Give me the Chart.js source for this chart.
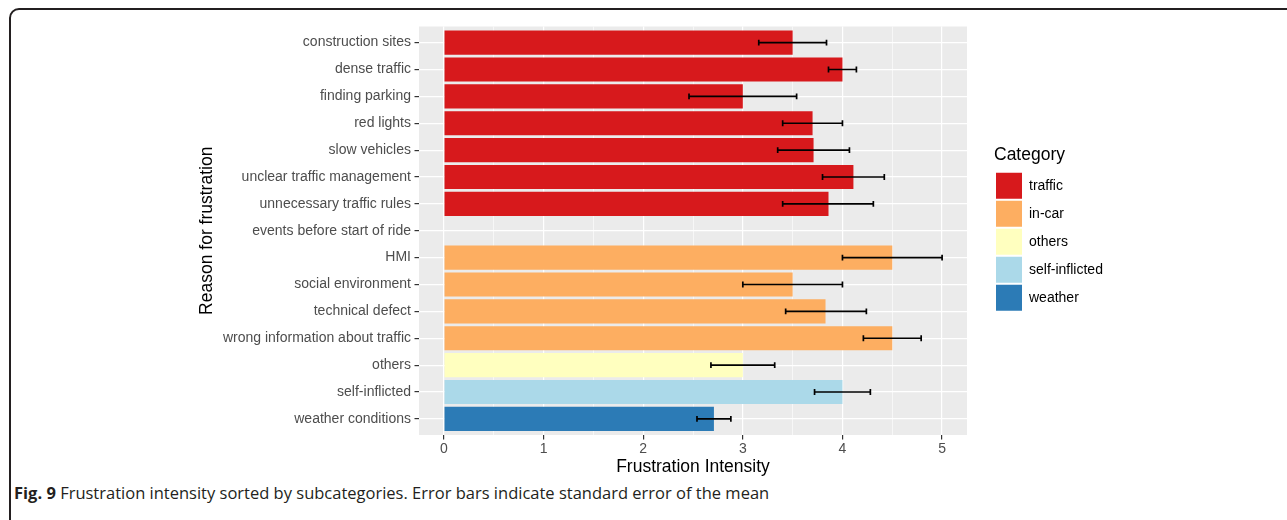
<!DOCTYPE html>
<html>
<head>
<meta charset="utf-8">
<script src="https://cdn.jsdelivr.net/npm/chart.js@4"></script>
<style>
    body { margin: 0; background: #fff; overflow: hidden; width: 1287px; height: 520px; position: relative; }
    .frame { position: absolute; left: 9px; top: 8px; width: 1400px; height: 600px; border: 2px solid #231f20; border-radius: 10px; box-sizing: border-box; }
    #chart { position: absolute; left: 0; top: 0; }
    .caption { position: absolute; left: 14px; top: 483px; font-family: "Open Sans", sans-serif; font-size: 16.5px; line-height: 20px; color: #231f20; white-space: nowrap; }
    .caption b { font-weight: 700; }
</style>
</head>
<body>
<div class="frame"></div>
<canvas id="chart" width="1287" height="478"></canvas>
<div class="caption"><b>Fig. 9</b> Frustration intensity sorted by subcategories. Error bars indicate standard error of the mean</div>

<script>
// data
const reasons = ["construction sites", "dense traffic", "finding parking", "red lights", "slow vehicles",
    "unclear traffic management", "unnecessary traffic rules", "events before start of ride", "HMI",
    "social environment", "technical defect", "wrong information about traffic", "others", "self-inflicted",
    "weather conditions"];
const reasonGroup = ["traffic", "traffic", "traffic", "traffic", "traffic", "traffic", "traffic", null,
    "in-car", "in-car", "in-car", "in-car", "others", "self-inflicted", "weather"];
const meanIntensity = [3.5, 4.0, 3.0, 3.7, 3.71, 4.11, 3.86, null, 4.5, 3.5, 3.83, 4.5, 3.0, 4.0, 2.71];
const errLow = [3.16, 3.86, 2.46, 3.4, 3.35, 3.8, 3.4, null, 4.0, 3.0, 3.43, 4.21, 2.68, 3.72, 2.54];
const errHigh = [3.84, 4.14, 3.54, 4.0, 4.07, 4.42, 4.31, null, 5.0, 4.0, 4.24, 4.79, 3.32, 4.28, 2.88];
const xTickValues = [0, 0.5, 1, 1.5, 2, 2.5, 3, 3.5, 4, 4.5, 5];
const groups = ["traffic", "in-car", "others", "self-inflicted", "weather"];
const groupColors = ["#d7191c", "#fdae61", "#ffffbf", "#abd9e9", "#2c7bb6"];

const PANEL_RIGHT = 967;

Chart.defaults.font.family = "Arial, 'Liberation Sans', Helvetica, sans-serif";

// grey ggplot panel
const panelBg = {
    id: "panelBg",
    beforeDraw(chart) {
        const a = chart.chartArea;
        chart.ctx.save();
        chart.ctx.fillStyle = "#ebebeb";
        chart.ctx.fillRect(a.left, a.top, a.right - a.left, a.bottom - a.top);
        chart.ctx.restore();
    }
};

// error bars from the scales
const errorBars = {
    id: "errorBars",
    afterDatasetsDraw(chart) {
        const xs = chart.scales.x, ys = chart.scales.y, ctx = chart.ctx;
        ctx.save();
        ctx.strokeStyle = "#000";
        ctx.lineWidth = 1.7;
        reasons.forEach((r, i) => {
            if (errLow[i] == null) return;
            const y = ys.getPixelForValue(i + 1);
            const cap = Math.abs(ys.getPixelForValue(i + 1.11) - y);
            const x1 = xs.getPixelForValue(errLow[i]);
            const x2 = xs.getPixelForValue(errHigh[i]);
            ctx.beginPath();
            ctx.moveTo(x1, y); ctx.lineTo(x2, y);
            ctx.moveTo(x1, y - cap); ctx.lineTo(x1, y + cap);
            ctx.moveTo(x2, y - cap); ctx.lineTo(x2, y + cap);
            ctx.stroke();
        });
        ctx.restore();
    }
};

// push legend away from the panel like ggplot does
const legendGap = {
    id: "legendGap",
    afterLayout(chart) {
        const lg = chart.legend;
        lg.left = chart.chartArea.right + 27;
        lg.right = lg.left + lg.width;
    }
};

const chart = new Chart(document.getElementById("chart"), {
    type: "bar",
    data: {
        datasets: [{
            data: meanIntensity.map((v, i) => ({ x: v, y: i + 1 })),
            backgroundColor: reasonGroup.map(g => g ? groupColors[groups.indexOf(g)] : "transparent"),
            borderWidth: 0,
            categoryPercentage: 1,
            barPercentage: 0.9
        }]
    },
    options: {
        indexAxis: "y",
        responsive: false,
        animation: false,
        layout: { padding: { left: 190, top: 26.5, right: 200, bottom: 0.8 } },
        scales: {
            x: {
                type: "linear",
                min: -0.25,
                max: 5.25,
                afterFit: s => { s.height = 42.2; },
                afterBuildTicks: s => { s.ticks = xTickValues.map(v => ({ value: v })); },
                ticks: {
                    color: "#4d4d4d",
                    font: { size: 14, lineHeight: 1 },
                    padding: 2.5,
                    maxRotation: 0,
                    autoSkip: false,
                    callback: v => (v % 1 === 0 ? v : "")
                },
                grid: {
                    color: "#ffffff",
                    lineWidth: c => (c.tick && c.tick.value % 1 !== 0 ? 0.6 : 1.2),
                    tickColor: c => (c.tick && c.tick.value % 1 !== 0 ? "rgba(0,0,0,0)" : "#333333"),
                    tickLength: 4.5,
                    tickWidth: 1.2
                },
                border: { display: false },
                title: {
                    display: true,
                    text: "Frustration Intensity",
                    color: "#000",
                    font: { size: 17.5, lineHeight: 1.2 },
                    padding: { top: 0, bottom: 0 }
                }
            },
            y: {
                type: "linear",
                reverse: true,
                min: 0.4,
                max: 15.6,
                offset: false,
                afterFit: s => { s.width = 229; },
                afterBuildTicks: s => { s.ticks = reasons.map((r, i) => ({ value: i + 1 })); },
                ticks: {
                    autoSkip: false,
                    color: "#4d4d4d",
                    font: { size: 14 },
                    padding: 3.5,
                    callback: v => reasons[v - 1]
                },
                grid: {
                    offset: false,
                    color: "#ffffff",
                    lineWidth: 1.2,
                    tickColor: "#333333",
                    tickLength: 4.5,
                    tickWidth: 1.2
                },
                border: { display: false },
                title: {
                    display: true,
                    text: "Reason for frustration",
                    color: "#000",
                    font: { size: 17.5, lineHeight: 1.2 },
                    padding: { top: 6.5, bottom: 0 }
                }
            }
        },
        plugins: {
            tooltip: { enabled: false },
            legend: {
                position: "right",
                align: "center",
                fullSize: false,
                onClick: null,
                title: {
                    display: true,
                    text: "Category",
                    position: "start",
                    color: "#000",
                    font: { size: 17.5, lineHeight: 1.2 },
                    padding: { top: -2, bottom: 2.9 }
                },
                labels: {
                    boxWidth: 26,
                    boxHeight: 26,
                    padding: 2,
                    color: "#000",
                    font: { size: 14 },
                    generateLabels: () => groups.map((g, i) => ({
                        text: g,
                        fillStyle: groupColors[i],
                        strokeStyle: groupColors[i],
                        lineWidth: 0,
                        hidden: false,
                        textAlign: "left",
                        datasetIndex: 0
                    }))
                }
            }
        }
    },
    plugins: [panelBg, errorBars, legendGap]
});

// size the right padding so the panel ends where the reference panel ends
chart.options.layout.padding.right = chart.width - PANEL_RIGHT - chart.legend.width;
chart.update();
</script>
</body>
</html>
